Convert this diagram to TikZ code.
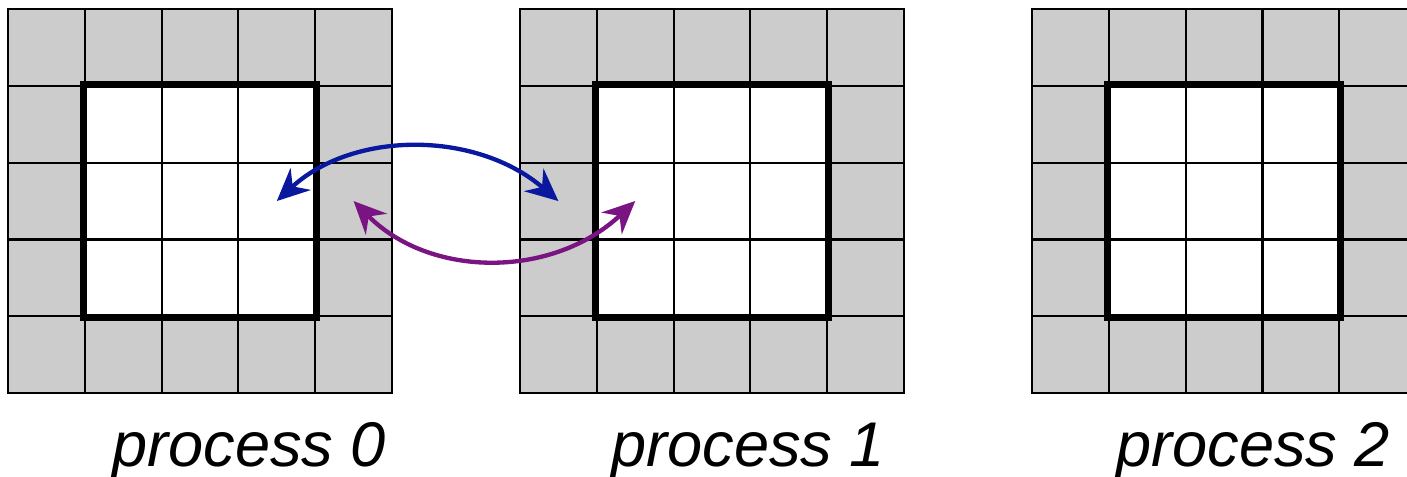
\documentclass[tikz,border=0pt]{standalone}
\usepackage{fontspec}
\setmainfont{Liberation Sans}
\usetikzlibrary{arrows.meta}
\definecolor{ghostgray}{HTML}{CCCCCC}
\definecolor{sendblue}{HTML}{0A18A0}
\definecolor{recvpurple}{HTML}{7A1482}
\begin{document}
\begin{tikzpicture}[cell/.style = {draw, minimum size=1cm, inner sep=0pt, line width=0.8pt},
    ghost/.style = {cell, fill=ghostgray},
    inner/.style = {cell, fill=white},
    lbl/.style = {font=\fontsize{23.4}{28}\selectfont\itshape, inner sep=0pt},
    swap/.style = {line width=1.6pt, {Stealth[length=12pt, width=11pt, inset=4pt]}-{Stealth[length=12pt, width=11pt, inset=4pt]}}]
  \useasboundingbox (0,0) rectangle (18.32,6.198);
  \clip (0,0) rectangle (18.32,6.198);

  % three processes, 3x3 interior plus a ring of ghost cells
  \foreach \k/\dx in {0/0.64, 1/0.47, 2/0.38} {
    \foreach \r in {0,...,4} {
      \foreach \c in {0,...,4} {
        \pgfmathsetmacro\xx{0.604 + 6.6667*\k + \c}
        \pgfmathsetmacro\yy{5.58 - \r}
        \ifnum\r=0 \def\kind{ghost}\else\ifnum\r=4 \def\kind{ghost}\else
          \ifnum\c=0 \def\kind{ghost}\else\ifnum\c=4 \def\kind{ghost}\else
            \def\kind{inner}\fi\fi\fi\fi
        \node[\kind] (p\k-\r-\c) at (\xx,\yy) {};
      }
    }
    \draw [line width=2.5pt] (p\k-1-1.north west) rectangle (p\k-3-3.south east);
    \node[lbl, anchor=base] (lbl\k) at ([xshift=\dx cm, yshift=-0.94cm] p\k-4-2.south) {process \k};
  }

  % halo exchange between process 0 and process 1
  \draw [swap, sendblue] (p0-2-3.center) .. controls (4.6,4.5) and (6.2,4.5) .. (p1-2-0.center);
  \draw [swap, recvpurple] (p0-2-4.center) .. controls (5.6,2.57) and (7.2,2.57) .. (p1-2-1.center);
\end{tikzpicture}
\end{document}
